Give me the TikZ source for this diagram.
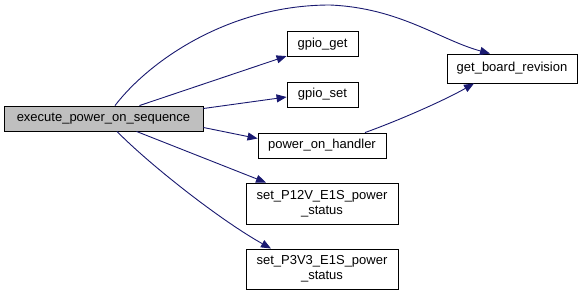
\documentclass[tikz,border=0pt]{standalone}
\usepackage{fontspec}
\setmainfont{Liberation Sans}
\usetikzlibrary{arrows.meta}
\definecolor{edgeblue}{HTML}{191970}
\definecolor{rootgray}{HTML}{BFBFBF}
\begin{document}
\begin{tikzpicture}[x=1pt, y=-1pt, font=\fontsize{13}{15}\selectfont,
    fn/.style={draw=black, line width=0.9pt, fill=white, inner sep=0pt, align=center},
    call/.style={edgeblue, line width=0.9pt, -{Triangle[length=10pt,width=8pt]}}]
    \useasboundingbox (0,0) rectangle (583,295);
    % Caller on the left, callees in a column, shared callee on the right
    \node[fn, fill=rootgray, minimum width=199pt, minimum height=25pt] (exec) at (103.5,118.5) {execute\_power\_on\_sequence};
    \node[fn, minimum width=71pt, minimum height=25pt] (gget) at (322.5,44) {gpio\_get};
    \node[fn, minimum width=71pt, minimum height=25pt] (gset) at (322.5,94.5) {gpio\_set};
    \node[fn, minimum width=128pt, minimum height=25pt] (pon) at (322,145.5) {power\_on\_handler};
    \node[fn, minimum width=152pt, minimum height=41pt] (p12v) at (322,203.5) {set\_P12V\_E1S\_power\\\_status};
    \node[fn, minimum width=152pt, minimum height=40pt] (p3v3) at (322,269) {set\_P3V3\_E1S\_power\\\_status};
    \node[fn, minimum width=130pt, minimum height=29pt] (gbr) at (512,68.5) {get\_board\_revision};
    % Calls
    \draw[call] ([xshift=11.5pt]exec.north) .. controls (150,60) and (230,5) .. (330,5)
        .. controls (400,8) and (440,40) .. ([xshift=-22pt]gbr.north);
    \draw[call] ([xshift=36pt]exec.north) -- (gget);
    \draw[call] ([yshift=10pt]exec.east) -- ([yshift=-2.5pt]gset.west);
    \draw[call] ([yshift=-9pt]exec.east) -- ([yshift=7pt]pon.west);
    \draw[call] ([xshift=33pt]exec.south) -- ([xshift=-56pt]p12v.north);
    \draw[call] ([xshift=13.5pt]exec.south) .. controls (150,165) and (220,220) .. ([xshift=-51pt]p3v3.north);
    \draw[call] ([xshift=43pt]pon.north) .. controls (400,120) and (445,100) .. ([xshift=-38pt]gbr.south);
\end{tikzpicture}
\end{document}
